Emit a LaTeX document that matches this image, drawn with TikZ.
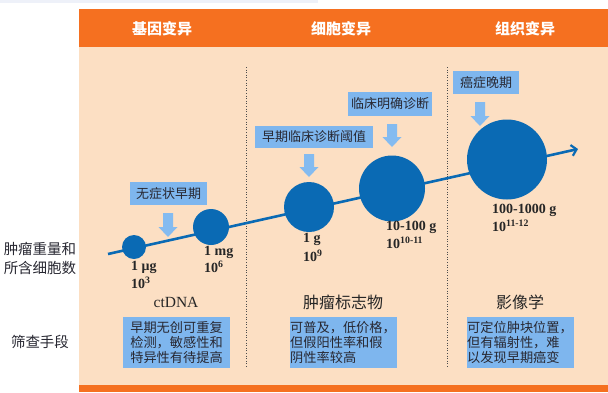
\documentclass[tikz,border=0pt]{standalone}
\usepackage{fontspec}
\setmainfont{Liberation Serif}
\newfontfamily\cjk{Noto Sans CJK SC}
\usetikzlibrary{arrows.meta}
\definecolor{hdr}{RGB}{245,112,32}
\definecolor{peach}{RGB}{252,223,195}
\definecolor{cblue}{RGB}{10,106,180}
\definecolor{lblue}{RGB}{126,182,238}
\definecolor{ablue}{RGB}{132,187,240}
\definecolor{strip}{RGB}{238,241,249}
\definecolor{txt}{RGB}{40,40,50}
\tikzset{
  hdrtext/.style={text=white,font=\cjk\bfseries\fontsize{15}{17}\selectfont},
  sidetext/.style={text=txt,font=\cjk\fontsize{14.5}{19}\selectfont,align=center},
  tagbox/.style={fill=lblue,text=txt,font=\cjk\fontsize{13}{15}\selectfont,inner sep=0pt},
  notebox/.style={fill=lblue,text=txt,font=\cjk\fontsize{13.2}{15.4}\selectfont,align=left,minimum width=107pt,minimum height=51pt,inner sep=0pt},
  ball/.style={circle,fill=cblue,inner sep=0pt},
  mass/.style={anchor=west,inner sep=0pt,text=black!85,font=\bfseries\fontsize{14}{16}\selectfont},
  method/.style={text=black!85,font=\fontsize{15.5}{17}\selectfont},
  methodcjk/.style={text=black!85,font=\cjk\fontsize{16}{18}\selectfont},
  divider/.style={draw=black!70,line width=0.6pt,dotted},
  trend/.style={draw=cblue,line width=2.6pt,-{Straight Barb[length=5pt,width=11pt,line width=2.2pt]}},
}
\newcommand\fatdown[3]{% x, top y, bottom y
  \fill[ablue] (#1-5,#2) -- (#1+5,#2) -- (#1+5,#3-10) -- (#1+9.5,#3-10) -- (#1,#3) -- (#1-9.5,#3-10) -- (#1-5,#3-10) -- cycle;}
\begin{document}
\begin{tikzpicture}[x=1pt,y=-1pt]
\useasboundingbox (0,0) rectangle (608,392);
\fill[white] (0,0) rectangle (608,392);
\fill[strip] (0,0) rectangle (318,3);
% backgrounds
\fill[peach] (79,47) rectangle (608,385);
\fill[hdr] (79,9) rectangle (608,47);
\fill[hdr] (79,385) rectangle (608,392);
\node[hdrtext] (h1) at (162,28.5) {基因变异};
\node[hdrtext] (h2) at (341,28.5) {细胞变异};
\node[hdrtext] (h3) at (525,28.5) {组织变异};
% dividers
\coordinate (d1t) at (246,67); \coordinate (d1b) at (246,367);
\coordinate (d2t) at (447,67); \coordinate (d2b) at (447,367);
\draw[divider] (d1t) -- (d1b);
\draw[divider] (d2t) -- (d2b);
% side labels
\node[sidetext] (s1) at (40,258) {肿瘤重量和\\所含细胞数};
\node[sidetext] (s2) at (40,342) {筛查手段};
% trend line
\coordinate (ts) at (108,254);
\coordinate (te) at (578,149);
\draw[trend] (ts) -- (te);
% balls
\node[ball,minimum size=24pt] (c1) at (134,247) {};
\node[ball,minimum size=36pt] (c2) at (211,227) {};
\node[ball,minimum size=50pt] (c3) at (309,207) {};
\node[ball,minimum size=66pt] (c4) at (392,188.5) {};
\node[ball,minimum size=80pt] (c5) at (507,159.5) {};
% mass labels
\node[mass] (m1a) at (131,267) {1 μg};
\node[mass] (m1b) at (131,283) {10\textsuperscript{3}};
\node[mass] (m2a) at (204,252) {1 mg};
\node[mass] (m2b) at (204,267) {10\textsuperscript{6}};
\node[mass] (m3a) at (303,239) {1 g};
\node[mass] (m3b) at (303,256) {10\textsuperscript{9}};
\node[mass] (m4a) at (386,227) {10-100 g};
\node[mass] (m4b) at (386,243) {10\textsuperscript{10-11}};
\node[mass] (m5a) at (492,210) {100-1000 g};
\node[mass] (m5b) at (492,226) {10\textsuperscript{11-12}};
% stage tags
\node[tagbox,minimum width=77pt,minimum height=23pt] (t1) at (168.5,193.5) {无症状早期};
\node[tagbox,minimum width=118pt,minimum height=22pt] (t2) at (314,137) {早期临床诊断阈值};
\node[tagbox,minimum width=84pt,minimum height=24pt] (t3) at (390,104) {临床明确诊断};
\node[tagbox,minimum width=66pt,minimum height=23pt] (t4) at (486,82.5) {癌症晚期};
\fatdown{168}{213}{237}
\fatdown{309}{154}{177}
\fatdown{392}{124}{147}
\fatdown{480}{102}{126}
% methods
\node[method] (k1) at (176,302) {ctDNA};
\node[methodcjk] (k2) at (343,302) {肿瘤标志物};
\node[methodcjk] (k3) at (520,302) {影像学};
\node[notebox] (n1) at (176.5,342.5) {早期无创可重复\\检测，敏感性和\\特异性有待提高};
\node[notebox] (n2) at (343,342.5) {可普及，低价格，\\但假阳性率和假\\阴性率较高};
\node[notebox] (n3) at (520,342.5) {可定位肿块位置，\\但有辐射性，难\\以发现早期癌变};
\end{tikzpicture}
\end{document}
